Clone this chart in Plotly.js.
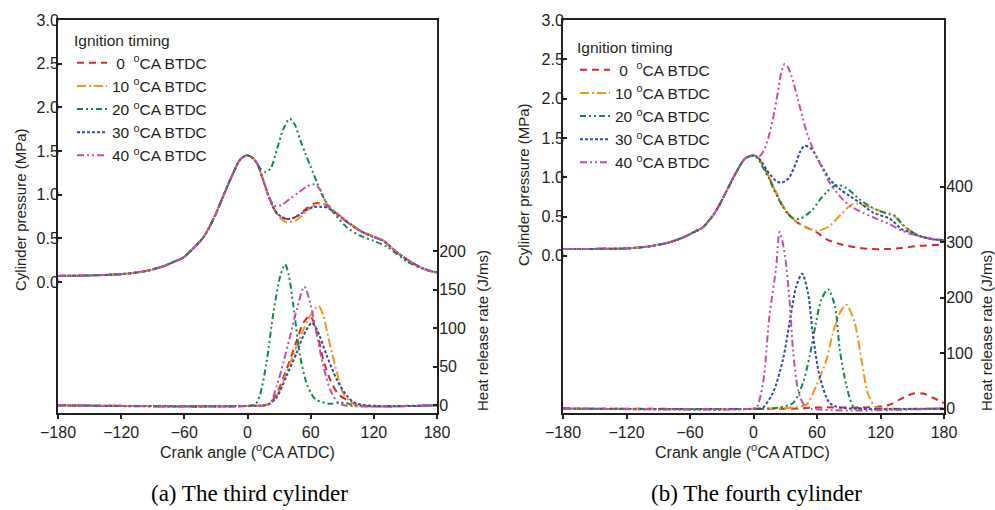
<!DOCTYPE html>
<html>
<head>
<meta charset="utf-8">
<script src="https://cdn.plot.ly/plotly-3.0.1.min.js"></script>
<style>html,body{margin:0;padding:0;background:#fff;}#chart{width:995px;height:510px;}</style>
</head>
<body>
<div id="chart"></div>
<script>
// ---------- labels ----------
const seriesNames = ["\u00a00\u00a0\u00a0<sup>o</sup>CA BTDC", "10 <sup>o</sup>CA BTDC", "20 <sup>o</sup>CA BTDC", "30 <sup>o</sup>CA BTDC", "40 <sup>o</sup>CA BTDC"];
const xTicks = [-180, -120, -60, 0, 60, 120, 180];
const pTicks = [0, 0.5, 1.0, 1.5, 2.0, 2.5, 3.0];
const pTickText = ["0.0", "0.5", "1.0", "1.5", "2.0", "2.5", "3.0"];
const hrrTicksA = [0, 50, 100, 150, 200];
const hrrTicksB = [0, 100, 200, 300, 400];

// ---------- (a) third cylinder: pressure (MPa) ----------
const pA_common_x = [-180, -150, -120, -105, -93, -80, -70, -61, -52, -42, -32, -23, -13.5, -7, -1, 4, 9];
const pA_common_y = [0.07, 0.075, 0.09, 0.11, 0.135, 0.18, 0.23, 0.28, 0.38, 0.51, 0.73, 0.985, 1.25, 1.40, 1.45, 1.43, 1.36];
const pA0_x  = [14, 20, 27, 33, 38, 45, 52, 58, 64, 70, 76, 82, 91, 100, 107, 117, 129, 142, 155, 164, 172, 180];
const pA0_y  = [1.2, 0.985, 0.8, 0.74, 0.72, 0.74, 0.8, 0.86, 0.9, 0.9, 0.87, 0.81, 0.72, 0.64, 0.585, 0.53, 0.47, 0.34, 0.23, 0.17, 0.13, 0.11];
const pA10_x = [14, 20, 27, 33, 38, 45, 52, 58, 64, 70, 76, 82, 91, 100, 107, 117, 129, 142, 155, 164, 172, 180];
const pA10_y = [1.2, 0.985, 0.79, 0.71, 0.685, 0.70, 0.76, 0.83, 0.88, 0.9, 0.88, 0.82, 0.73, 0.65, 0.59, 0.535, 0.475, 0.34, 0.23, 0.17, 0.13, 0.11];
const pA20_x = [12, 17, 22, 28, 34, 40, 45, 50, 55, 60, 66, 72, 82, 95, 107, 120, 133, 152, 165, 180];
const pA20_y = [1.30, 1.26, 1.30, 1.52, 1.75, 1.87, 1.80, 1.63, 1.47, 1.32, 1.14, 0.97, 0.79, 0.62, 0.53, 0.47, 0.40, 0.23, 0.16, 0.11];
const pA30_x = [14, 20, 27, 33, 38, 45, 52, 58, 64, 70, 76, 82, 91, 100, 107, 117, 129, 142, 155, 164, 172, 180];
const pA30_y = [1.2, 0.985, 0.8, 0.74, 0.72, 0.74, 0.79, 0.84, 0.86, 0.86, 0.85, 0.80, 0.72, 0.64, 0.585, 0.53, 0.47, 0.34, 0.23, 0.17, 0.13, 0.11];
const pA40_x = [14, 20, 26, 32, 40, 48, 56, 62, 66, 70, 75, 82, 91, 100, 107, 117, 129, 142, 155, 164, 172, 180];
const pA40_y = [1.2, 0.985, 0.87, 0.88, 0.95, 1.02, 1.09, 1.12, 1.10, 1.04, 0.90, 0.80, 0.72, 0.64, 0.585, 0.53, 0.47, 0.34, 0.23, 0.17, 0.13, 0.11];

// ---------- (a) heat release rate (J/ms) ----------
const hA0_x  = [-180, 15, 21, 28, 37, 47, 53, 59.5, 66, 72, 78.6, 86.5, 97.6, 105, 180];
const hA0_y  = [0, 0, 2, 16, 46, 85, 107, 116, 94, 59, 33, 14, 5, 0, 0];
const hA10_x = [-180, 15, 21, 28, 37, 46.7, 53, 59.5, 67.5, 72, 78.6, 85, 91.4, 97.6, 105, 180];
const hA10_y = [0, 0, 2, 13, 42, 77, 98, 116, 129, 116, 77, 42, 14, 5, 0, 0];
const hA20_x = [-180, 5, 8, 12, 18, 24.6, 31, 35.7, 39, 43.6, 50, 56, 62, 66, 78, 88, 94, 100, 180];
const hA20_y = [0, 0, 2, 14, 55, 120, 167, 183, 170, 129, 64, 29, 12, 6.5, 2, 3, 3, 0, 0];
const hA30_x = [-180, 15, 21, 28, 37, 46.7, 53, 61, 66, 75.4, 85, 94.6, 104, 180];
const hA30_y = [0, 0, 2, 11, 38, 68, 90, 107, 98, 64, 33, 12, 2, 0];
const hA40_x = [-180, 18, 21.4, 27.8, 34, 40.5, 46.7, 54, 59.5, 66, 72, 78.6, 85, 92, 180];
const hA40_y = [0, 0, 2, 25, 55, 90, 124, 154, 133, 90, 51, 20, 5, 0, 0];

// ---------- (b) fourth cylinder: pressure (MPa) ----------
const pB_common_x = [-180, -150, -120, -98.5, -80, -67, -58, -48, -42, -35.4, -26, -16.4, -8.5, -3, 1];
const pB_common_y = [0.085, 0.088, 0.094, 0.12, 0.17, 0.23, 0.29, 0.36, 0.45, 0.57, 0.81, 1.06, 1.23, 1.27, 1.275];
const pB0_x  = [5, 9, 14, 18.3, 23, 27.8, 32, 37.3, 43, 50, 59.5, 69, 81.5, 97.3, 113, 129, 140, 157, 170, 180];
const pB0_y  = [1.24, 1.14, 1.02, 0.89, 0.76, 0.635, 0.55, 0.47, 0.41, 0.36, 0.30, 0.21, 0.15, 0.107, 0.085, 0.088, 0.10, 0.127, 0.136, 0.14];
const pB10_x = [5, 9, 14, 18.3, 23, 27.8, 32, 37.3, 43, 50, 59.5, 66, 72, 81.5, 88, 94, 100, 113, 122, 129, 133.6, 140, 148, 157, 170, 180];
const pB10_y = [1.24, 1.14, 1.02, 0.89, 0.76, 0.635, 0.55, 0.47, 0.41, 0.36, 0.32, 0.34, 0.38, 0.51, 0.60, 0.66, 0.66, 0.60, 0.56, 0.54, 0.50, 0.40, 0.32, 0.25, 0.21, 0.20];
const pB20_x = [5, 9, 14, 18.3, 23, 27.8, 32, 37.3, 43.6, 50, 56, 62, 69, 78.4, 88, 100, 110, 119, 128, 133.6, 140, 148, 157, 170, 180];
const pB20_y = [1.22, 1.12, 1.0, 0.87, 0.74, 0.62, 0.54, 0.48, 0.47, 0.52, 0.59, 0.70, 0.81, 0.90, 0.86, 0.72, 0.63, 0.57, 0.53, 0.51, 0.41, 0.32, 0.25, 0.21, 0.20];
const pB30_x = [5, 9, 12, 16, 21.5, 26.2, 30, 34, 40.4, 44, 48.3, 54.7, 62.5, 72, 81.5, 91, 100, 113, 129, 140, 148, 157, 170, 180];
const pB30_y = [1.24, 1.17, 1.10, 1.03, 0.95, 0.93, 0.95, 1.0, 1.19, 1.32, 1.40, 1.36, 1.19, 0.975, 0.85, 0.76, 0.68, 0.55, 0.47, 0.34, 0.30, 0.25, 0.21, 0.20];
const pB40_x = [5, 9, 13.6, 18.3, 23, 26.2, 29.4, 32, 35.8, 42, 46.7, 51.5, 57.8, 64, 72, 81.5, 91, 100, 113, 129, 140, 148, 157, 170, 180];
const pB40_y = [1.26, 1.32, 1.48, 1.74, 2.08, 2.33, 2.44, 2.41, 2.29, 1.99, 1.74, 1.52, 1.31, 1.14, 0.93, 0.76, 0.635, 0.57, 0.49, 0.40, 0.32, 0.28, 0.25, 0.21, 0.20];

// ---------- (b) heat release rate (J/ms) ----------
const hB0_x  = [-180, 40, 60, 100, 116, 128.8, 138, 151, 160.6, 170, 180];
const hB0_y  = [0, 0, 2, 2, 3, 7, 16, 27, 27, 19, 10];
const hB10_x = [-180, 20, 37.3, 50, 59, 69, 75, 81.5, 87.8, 95.7, 102, 108, 114.6, 120, 180];
const hB10_y = [0, 0, 2, 7, 40, 88, 136, 172, 187, 154, 88, 28, 4, 1, 0];
const hB20_x = [-180, 15, 24.6, 37.3, 46.7, 53, 59, 64, 70.4, 77, 81.5, 88, 94, 100, 180];
const hB20_y = [0, 0, 2, 10, 46, 94, 154, 196, 215, 184, 106, 40, 5, 1, 0];
const hB30_x = [-180, 5, 9, 18.3, 27.8, 34, 40.4, 46, 51.5, 56, 62.5, 72, 81.5, 180];
const hB30_y = [0, 0, 2, 28, 88, 154, 220, 243, 208, 136, 58, 10, 2, 0];
const hB40_x = [-180, 0, 3, 9, 15, 21.5, 24.6, 29, 34, 37.3, 42, 46, 50, 180];
const hB40_y = [0, 0, 2, 46, 166, 256, 318, 285, 196, 106, 34, 12, 2, 0];

// ---------- styles ----------
const colors = ["#d9272e", "#f7941d", "#0f8a43", "#2e4ea2", "#c14fae"];
const dashes = ["7px,5px", "9px,3px,2px,3px", "6px,3px,2px,3px,2px,3px", "3px,2px", "7px,3px,2px,3px,2px,3px"];
const FONT = "Liberation Sans, Arial, Helvetica, sans-serif";
const INK = "#231f20";

const pA = [[pA0_x, pA0_y], [pA10_x, pA10_y], [pA20_x, pA20_y], [pA30_x, pA30_y], [pA40_x, pA40_y]];
const hA = [[hA0_x, hA0_y], [hA10_x, hA10_y], [hA20_x, hA20_y], [hA30_x, hA30_y], [hA40_x, hA40_y]];
const pB = [[pB0_x, pB0_y], [pB10_x, pB10_y], [pB20_x, pB20_y], [pB30_x, pB30_y], [pB40_x, pB40_y]];
const hB = [[hB0_x, hB0_y], [hB10_x, hB10_y], [hB20_x, hB20_y], [hB30_x, hB30_y], [hB40_x, hB40_y]];

const traces = [];
function line(i) { return {color: colors[i], width: 2, dash: dashes[i], shape: "spline", smoothing: 0.8}; }
for (let i = 0; i < 5; i++) {
  traces.push({x: pA_common_x.concat(pA[i][0]), y: pA_common_y.concat(pA[i][1]), xaxis: "x", yaxis: "y",
    mode: "lines", name: seriesNames[i], legend: "legend", line: line(i)});
}
for (let i = 0; i < 5; i++) {
  traces.push({x: hA[i][0], y: hA[i][1], xaxis: "x", yaxis: "y2", mode: "lines", showlegend: false, line: line(i)});
}
for (let i = 0; i < 5; i++) {
  traces.push({x: pB_common_x.concat(pB[i][0]), y: pB_common_y.concat(pB[i][1]), xaxis: "x2", yaxis: "y3",
    mode: "lines", name: seriesNames[i], legend: "legend2", line: line(i)});
}
for (let i = 0; i < 5; i++) {
  traces.push({x: hB[i][0], y: hB[i][1], xaxis: "x2", yaxis: "y4", mode: "lines", showlegend: false, line: line(i)});
}

const W = 995, H = 510;
const yDom = [1 - 413 / H, 1 - 20 / H];
const axBase = {showline: true, linewidth: 2, linecolor: INK, ticklen: 4, tickwidth: 2, tickcolor: INK,
  showgrid: false, zeroline: false, tickfont: {family: FONT, size: 16, color: INK}, fixedrange: true};
const xBase = Object.assign({}, axBase, {ticks: "outside"});
const yBase = Object.assign({}, axBase, {ticks: "inside", ticklabelstandoff: -6});
const yRBase = Object.assign({}, axBase, {ticks: "inside", ticklabelstandoff: -3});
const legFont = {family: FONT, size: 15.5, color: INK};

const layout = {
  width: W, height: H, margin: {l: 0, r: 0, t: 0, b: 0}, paper_bgcolor: "#fff", plot_bgcolor: "#fff",
  font: {family: FONT, color: INK},
  xaxis: Object.assign({}, xBase, {domain: [58 / W, 437 / W], range: [-180, 180], tickvals: xTicks, mirror: true, anchor: "y"}),
  yaxis: Object.assign({}, yBase, {domain: yDom, range: [-1.5, 3.0], tickvals: pTicks, ticktext: pTickText, anchor: "x"}),
  yaxis2: Object.assign({}, yRBase, {overlaying: "y", side: "right", anchor: "x", range: [-10, 500], tickvals: hrrTicksA}),
  xaxis2: Object.assign({}, xBase, {domain: [563 / W, 944 / W], range: [-180, 180], tickvals: xTicks, mirror: true, anchor: "y3"}),
  yaxis3: Object.assign({}, yBase, {domain: yDom, range: [-2, 3], tickvals: pTicks, ticktext: pTickText, anchor: "x2"}),
  yaxis4: Object.assign({}, yRBase, {overlaying: "y3", side: "right", anchor: "x2", range: [-8, 700], tickvals: hrrTicksB}),
  legend: {x: 72 / W, y: 1 - 26 / H, xanchor: "left", yanchor: "top", bgcolor: "rgba(0,0,0,0)",
    font: legFont, title: {text: "Ignition timing", font: legFont}, tracegroupgap: 0, itemwidth: 30},
  legend2: {x: 575 / W, y: 1 - 33 / H, xanchor: "left", yanchor: "top", bgcolor: "rgba(0,0,0,0)",
    font: legFont, title: {text: "Ignition timing", font: legFont}, tracegroupgap: 0, itemwidth: 30},
  annotations: [
    {text: "Cylinder pressure (MPa)", x: 20 / W, y: 1 - 210 / H, xref: "paper", yref: "paper", textangle: -90, showarrow: false, xanchor: "center", yanchor: "middle", font: {family: FONT, size: 15, color: INK}},
    {text: "Heat release rate (J/ms)", x: 482 / W, y: 1 - 331 / H, xref: "paper", yref: "paper", textangle: -90, showarrow: false, xanchor: "center", yanchor: "middle", font: {family: FONT, size: 15, color: INK}},
    {text: "Cylinder pressure (MPa)", x: 523 / W, y: 1 - 185 / H, xref: "paper", yref: "paper", textangle: -90, showarrow: false, xanchor: "center", yanchor: "middle", font: {family: FONT, size: 15, color: INK}},
    {text: "Heat release rate (J/ms)", x: 986 / W, y: 1 - 331 / H, xref: "paper", yref: "paper", textangle: -90, showarrow: false, xanchor: "center", yanchor: "middle", font: {family: FONT, size: 15, color: INK}},
    {text: "Crank angle (<sup>o</sup>CA ATDC)", x: 247 / W, y: 1 - 451 / H, xref: "paper", yref: "paper", showarrow: false, xanchor: "center", yanchor: "middle", font: {family: FONT, size: 16, color: INK}},
    {text: "Crank angle (<sup>o</sup>CA ATDC)", x: 742 / W, y: 1 - 451 / H, xref: "paper", yref: "paper", showarrow: false, xanchor: "center", yanchor: "middle", font: {family: FONT, size: 16, color: INK}},
    {text: "(a) The third cylinder", x: 250 / W, y: 1 - 493 / H, xref: "paper", yref: "paper", showarrow: false, xanchor: "center", yanchor: "middle", font: {family: "Liberation Serif, Times New Roman, serif", size: 23, color: "#000"}},
    {text: "(b) The fourth cylinder", x: 756 / W, y: 1 - 493 / H, xref: "paper", yref: "paper", showarrow: false, xanchor: "center", yanchor: "middle", font: {family: "Liberation Serif, Times New Roman, serif", size: 23, color: "#000"}}
  ]
};

Plotly.newPlot("chart", traces, layout, {displayModeBar: false, staticPlot: true});
</script>
</body>
</html>
